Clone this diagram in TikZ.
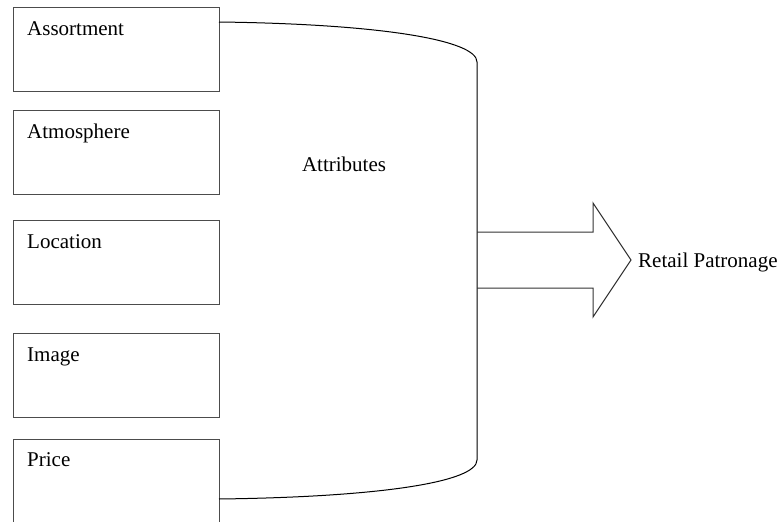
\documentclass[tikz,border=0pt]{standalone}
\usepackage{fontspec}
\setmainfont{Liberation Serif}
\usetikzlibrary{positioning}
\tikzset{
	attrbox/.style={draw=black!70, line width=1pt, minimum width=206pt, minimum height=84pt, inner sep=0pt, anchor=north west},
	boxtext/.style={anchor=base west, inner sep=0pt, font=\fontsize{21}{25}\selectfont},
}
\begin{document}
\begin{tikzpicture}[x=1pt,y=-1pt]
				\useasboundingbox (0,0) rectangle (779,522);
				\clip (0,0) rectangle (779,522);
				% attribute boxes
				\node[attrbox] (assort) at (13,7) {};
				\node[attrbox] (atmos) at (13,110) {};
				\node[attrbox] (loc) at (13,220) {};
				\node[attrbox] (image) at (13,333) {};
				\node[attrbox] (price) at (13,439) {};
				\node[boxtext] at ([shift={(14,28)}]assort.north west) {Assortment};
				\node[boxtext] at ([shift={(14,28)}]atmos.north west) {Atmosphere};
				\node[boxtext] at ([shift={(14,28)}]loc.north west) {Location};
				\node[boxtext] at ([shift={(14,28)}]image.north west) {Image};
				\node[boxtext] at ([shift={(14,27)}]price.north west) {Price};
				% bracket
				\draw [line width=1pt] (219,22) .. controls (380,24) and (477,40) .. (477,62) -- (477,460)
					.. controls (477,482) and (380,497) .. (219,499);
				\node[boxtext, anchor=center] (attr) at (344,164) {Attributes};
				% block arrow
				\draw [line width=1pt, black!80] (477,232) -- (593,232) -- (593,203) -- (631,260) -- (593,317) -- (593,288) -- (477,288);
				\node[boxtext] (patron) at (638,267) {Retail Patronage};
\end{tikzpicture}
\end{document}
